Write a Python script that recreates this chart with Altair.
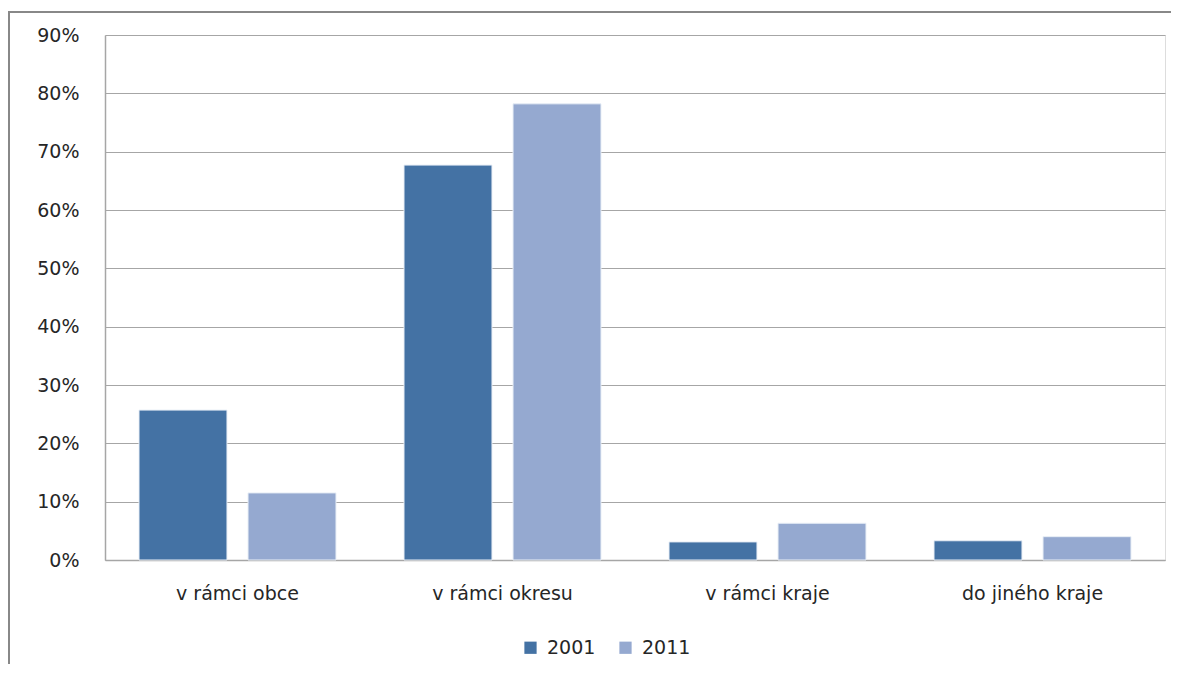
import altair as alt
import pandas as pd

categories = ["v rámci obce", "v rámci okresu", "v rámci kraje", "do jiného kraje"]
years = ["2001", "2011"]
values_2001 = [0.257, 0.677, 0.031, 0.033]
values_2011 = [0.115, 0.782, 0.063, 0.040]
colors = ["#4472A4", "#95A9D0"]
y_ticks = [0, 0.1, 0.2, 0.3, 0.4, 0.5, 0.6, 0.7, 0.8, 0.9]

rows = []
for c, a, b in zip(categories, values_2001, values_2011):
    rows.append({"kat": c, "rok": "2001", "hodnota": a})
    rows.append({"kat": c, "rok": "2011", "hodnota": b})
df = pd.DataFrame(rows)

FONT = "DejaVu Sans"
TXT = "#262626"

bars = alt.Chart(df).mark_bar(stroke="#E8EEF6", strokeWidth=1).encode(
    x=alt.X("kat:N", sort=categories,
            scale=alt.Scale(paddingInner=0, paddingOuter=0),
            axis=alt.Axis(title=None, labelAngle=0, ticks=False, domain=True,
                          domainColor="#A6A6A6", domainWidth=1.5,
                          labelFont=FONT, labelFontSize=19, labelColor=TXT,
                          labelPadding=24)),
    xOffset=alt.XOffset("rok:N", sort=years,
                        scale=alt.Scale(paddingInner=0.193, paddingOuter=0.312)),
    y=alt.Y("hodnota:Q",
            scale=alt.Scale(domain=[0, 0.9], nice=False),
            axis=alt.Axis(title=None, format=".0%", values=y_ticks, ticks=False,
                          domain=True, domainColor="#A6A6A6", domainWidth=1.5,
                          grid=True, gridColor="#A6A6A6", gridWidth=1,
                          labelFont=FONT, labelFontSize=19, labelColor=TXT,
                          labelPadding=26)),
    color=alt.Color("rok:N", sort=years,
                    scale=alt.Scale(domain=years, range=colors),
                    legend=alt.Legend(title=None, orient="none", direction="horizontal",
                                      legendX=416, legendY=603,
                                      symbolType="square", symbolSize=150,
                                      symbolStrokeWidth=0,
                                      labelFont=FONT, labelFontSize=19,
                                      labelColor=TXT, columnPadding=20,
                                      labelOffset=7)),
)

border = alt.Chart(pd.DataFrame({"a": [0]})).mark_rect(
    fill=None, stroke="#888888", strokeWidth=2
).encode(
    x=alt.value(-96), x2=alt.value(1100),
    y=alt.value(-23), y2=alt.value(720),
)

chart = alt.layer(border, bars).properties(
    width=1060, height=525,
    autosize=alt.AutoSizeParams(type="none"),
    padding={"left": 97, "top": 27, "right": 6, "bottom": 104},
).configure_view(stroke=None).configure(background="white")

chart.save("out.html", embed_options={"renderer": "svg", "actions": False})
